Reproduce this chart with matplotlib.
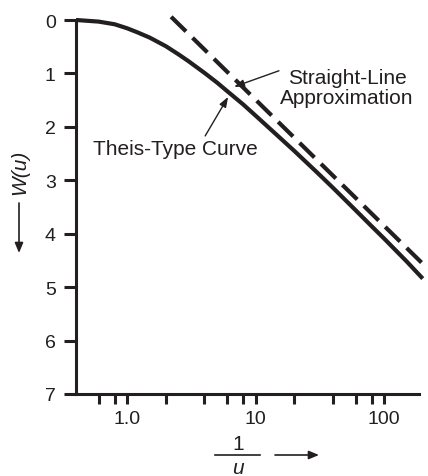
import matplotlib
matplotlib.use("Agg")
import matplotlib.pyplot as plt
from matplotlib.lines import Line2D
from matplotlib.patches import FancyArrowPatch

plt.rcParams['font.family'] = ['Liberation Sans', 'DejaVu Sans']

# ---- data ----
theis_x = [0.4, 0.6, 0.8, 1.0, 1.2, 1.5, 2, 2.5, 3, 4, 5, 6, 8, 10, 14, 20, 30, 40, 60, 80, 100, 150, 200]
theis_w = [0.00, 0.03, 0.08, 0.155, 0.23, 0.33, 0.49, 0.64, 0.77, 0.99, 1.17, 1.33, 1.58, 1.79,
           2.11, 2.45, 2.85, 3.14, 3.56, 3.86, 4.09, 4.52, 4.84]
straight_x = [2.2, 220]
straight_w = [-0.06, 4.66]
x_ticks = [0.6, 0.8, 1, 2, 4, 6, 8, 10, 20, 40, 60, 80, 100]
x_tick_labels = {1: "1.0", 10: "10", 100: "100"}
y_ticks = [0, 1, 2, 3, 4, 5, 6, 7]

W, H = 428, 477
ink = '#231f20'
fig = plt.figure(figsize=(W / 100, H / 100), dpi=100)
ax = fig.add_axes([76 / W, (H - 395) / H, (419 - 76) / W, (395 - 21) / H])

ax.plot(theis_x, theis_w, color=ink, lw=3.0, solid_capstyle='butt',
        solid_joinstyle='round', clip_on=False)
ax.plot(straight_x, straight_w, color=ink, lw=3.0, linestyle=(0, (5.0, 2.2)),
        dash_capstyle='butt', clip_on=False)

ax.set_xscale('log')
ax.set_xlim(0.4, 187)
ax.set_ylim(7, 0)
ax.set_xticks(x_ticks)
ax.set_xticklabels([x_tick_labels.get(t, "") for t in x_ticks])
ax.xaxis.set_minor_locator(matplotlib.ticker.NullLocator())
ax.set_yticks(y_ticks)
ax.set_yticklabels([str(t) for t in y_ticks])

for s in ['top', 'right']:
    ax.spines[s].set_visible(False)
for s in ['left', 'bottom']:
    ax.spines[s].set_linewidth(2.2)
    ax.spines[s].set_color(ink)
ax.tick_params(axis='both', direction='out', width=2.2, color=ink,
               labelsize=14, labelcolor=ink)
ax.tick_params(axis='x', length=7.5, pad=4)
ax.tick_params(axis='y', length=8.5, pad=6)

# annotations
ax.text(51.5, 1.26, "Straight-Line\nApproximation", ha='center', va='center',
        fontsize=15, color=ink, linespacing=1.05)
ax.annotate('', xy=(6.8, 1.25), xytext=(15.2, 0.95),
            arrowprops=dict(arrowstyle='-|>,head_length=0.6,head_width=0.22',
                            color=ink, lw=1.0, shrinkA=0, shrinkB=0))
ax.text(0.544, 2.41, "Theis-Type Curve", ha='left', va='center',
        fontsize=15, color=ink)
ax.annotate('', xy=(6.11, 1.44), xytext=(4.05, 2.17),
            arrowprops=dict(arrowstyle='-|>,head_length=0.6,head_width=0.22',
                            color=ink, lw=1.0, shrinkA=0, shrinkB=0))

def fx(px):
    return px / W

def fy(py):
    return 1 - py / H

# y label with arrow
fig.text(fx(20), fy(172), "W(u)", rotation=90, ha='center', va='center',
         fontsize=15, style='italic', color=ink)
fig.patches.append(FancyArrowPatch((fx(19), fy(204)), (fx(19), fy(254)),
                                   transform=fig.transFigure,
                                   arrowstyle='-|>,head_length=6,head_width=2.5',
                                   color=ink, lw=1.2, shrinkA=0, shrinkB=0))

# x label 1/u with arrow
fig.text(fx(238), fy(445), "1", ha='center', va='center', fontsize=15, color=ink)
fig.lines.append(Line2D([fx(215), fx(260)], [fy(456), fy(456)],
                        transform=fig.transFigure, color=ink, lw=1.2))
fig.text(fx(238), fy(469), "u", ha='center', va='center', fontsize=15,
         style='italic', color=ink)
fig.patches.append(FancyArrowPatch((fx(275), fy(456)), (fx(319), fy(456)),
                                   transform=fig.transFigure,
                                   arrowstyle='-|>,head_length=6,head_width=2.5',
                                   color=ink, lw=1.2, shrinkA=0, shrinkB=0))

fig.savefig("out.png", dpi=100)
